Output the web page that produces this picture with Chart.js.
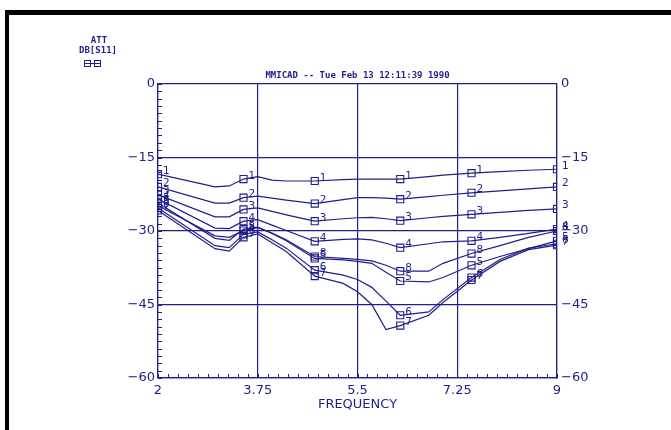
<!DOCTYPE html>
<html>
<head>
<meta charset="utf-8">
<title>MMICAD DB[S11]</title>
<script src="https://cdn.jsdelivr.net/npm/chart.js@4"></script>
<style>
    html, body { margin: 0; padding: 0; background: #ffffff; }
    #wrap { position: relative; width: 671px; height: 430px; overflow: hidden; }
</style>
</head>
<body>
<div id="wrap"><canvas id="s11-chart" width="671" height="430"></canvas></div>
<script>
// Data (GHz / dB)
const FREQ = [2, 3, 3.25, 3.5, 3.75, 4, 4.25, 4.75, 5.25, 5.5, 5.75, 6, 6.25, 6.75, 7, 7.5, 8, 8.5, 9];
const MARKER_FREQ = [2, 3.5, 4.75, 6.25, 7.5, 9];

const TRACE_1 = [-18.4, -21.0, -20.8, -19.4, -18.9, -19.6, -19.8, -19.8, -19.5, -19.4, -19.4, -19.4, -19.4, -18.9, -18.6, -18.2, -17.9, -17.6, -17.4];
const TRACE_2 = [-21.0, -24.3, -24.3, -23.2, -22.9, -23.3, -23.7, -24.4, -23.6, -23.2, -23.2, -23.3, -23.5, -23.0, -22.7, -22.2, -21.8, -21.4, -21.0];
const TRACE_3 = [-22.6, -27.1, -27.1, -25.6, -25.3, -26.0, -26.7, -28.0, -27.5, -27.3, -27.2, -27.5, -27.9, -27.3, -27.0, -26.6, -26.2, -25.8, -25.5];
const TRACE_4 = [-23.5, -29.4, -29.5, -28.0, -27.7, -28.8, -29.9, -32.1, -31.7, -31.6, -31.8, -32.5, -33.4, -32.6, -32.2, -32.0, -31.3, -30.5, -29.6];
const TRACE_5 = [-24.3, -31.5, -31.9, -29.6, -29.2, -30.5, -32.0, -35.6, -35.9, -36.2, -36.6, -38.4, -40.2, -40.4, -39.5, -37.0, -35.2, -33.6, -32.0];
const TRACE_6 = [-25.3, -33.0, -33.4, -30.7, -30.2, -31.8, -33.5, -38.0, -39.0, -39.9, -41.5, -44.3, -47.2, -46.5, -44.0, -39.5, -35.8, -33.5, -32.6];
const TRACE_7 = [-25.8, -33.6, -34.1, -31.3, -30.6, -32.4, -34.2, -39.2, -40.7, -42.4, -45.0, -50.1, -49.3, -47.2, -44.6, -40.0, -36.2, -33.8, -32.9];
const TRACE_8 = [-24.8, -31.0, -31.3, -29.9, -29.3, -30.4, -31.8, -35.2, -35.6, -35.8, -36.1, -37.0, -38.2, -38.2, -36.6, -34.6, -33.0, -31.3, -30.0];

const TRACES = [TRACE_1, TRACE_2, TRACE_3, TRACE_4, TRACE_5, TRACE_6, TRACE_7, TRACE_8];
const TRACE_LABELS = ['1', '2', '3', '4', '5', '6', '7', '8'];

const X_TICKS = [2, 3.75, 5.5, 7.25, 9];
const Y_TICKS = [0, -15, -30, -45, -60];

const TITLE = 'MMICAD -- Tue Feb 13 12:11:39 1990';
const X_TITLE = 'FREQUENCY';
const Y_TITLE_1 = 'ATT';
const Y_TITLE_2 = 'DB[S11]';

const NAVY = '#1e1e8c';
const AXIS_FONT = { family: "'DejaVu Sans', sans-serif", size: 13 };

function minusLabel(v) {
    return (v < 0 ? '\u2212' : '') + Math.abs(v);
}

// frame, header texts, minor ticks, marker numbers
const decorPlugin = {
    id: 'decor',
    beforeDraw(chart) {
        const ctx = chart.ctx;
        ctx.save();
        ctx.fillStyle = '#ffffff';
        ctx.fillRect(0, 0, chart.width, chart.height);
        ctx.fillStyle = '#000000';
        ctx.fillRect(5, 10, chart.width - 5, 5);
        ctx.fillRect(5, 10, 4, chart.height - 10);
        ctx.restore();
    },
    afterDatasetsDraw(chart) {
        const ctx = chart.ctx;
        ctx.save();
        ctx.fillStyle = NAVY;
        ctx.font = "10.5px 'DejaVu Sans', sans-serif";
        ctx.textAlign = 'left';
        ctx.textBaseline = 'bottom';
        chart.data.datasets.forEach((ds, i) => {
            const meta = chart.getDatasetMeta(i);
            meta.data.forEach((pt, j) => {
                if (!MARKER_FREQ.includes(FREQ[j])) return;
                ctx.fillText(TRACE_LABELS[i], pt.x + 5, pt.y + 2);
            });
        });
        ctx.restore();
    },
    afterDraw(chart) {
        const ctx = chart.ctx;
        const area = chart.chartArea;
        const xs = chart.scales.x;
        const ys = chart.scales.y;
        ctx.save();
        ctx.strokeStyle = NAVY;
        ctx.lineWidth = 1;

        // minor ticks, 10 per major step
        ctx.beginPath();
        const ySteps = (Y_TICKS.length - 1) * 10;
        for (let i = 0; i <= ySteps; i++) {
            const v = Y_TICKS[0] + (Y_TICKS[Y_TICKS.length - 1] - Y_TICKS[0]) * i / ySteps;
            const py = Math.round(ys.getPixelForValue(v)) + 0.5;
            ctx.moveTo(area.left, py);
            ctx.lineTo(area.left + 4, py);
        }
        const xSteps = (X_TICKS.length - 1) * 10;
        for (let i = 0; i <= xSteps; i++) {
            const v = X_TICKS[0] + (X_TICKS[X_TICKS.length - 1] - X_TICKS[0]) * i / xSteps;
            const px = Math.round(xs.getPixelForValue(v)) + 0.5;
            ctx.moveTo(px, area.bottom);
            ctx.lineTo(px, area.bottom - 4);
        }
        ctx.stroke();

        // header
        ctx.fillStyle = NAVY;
        ctx.font = "bold 9px 'DejaVu Sans Mono', monospace";
        ctx.textAlign = 'center';
        ctx.textBaseline = 'middle';
        ctx.fillText(TITLE, (area.left + area.right) / 2, 76);
        ctx.fillText(Y_TITLE_1, 99, 41);
        ctx.fillText(Y_TITLE_2, 98, 51);

        // legend symbol
        ctx.strokeRect(84.5, 60.5, 6, 6);
        ctx.strokeRect(94.5, 60.5, 6, 6);
        ctx.beginPath();
        ctx.moveTo(84.5, 63.5);
        ctx.lineTo(100.5, 63.5);
        ctx.stroke();
        ctx.restore();
    }
};

function buildDatasets() {
    return TRACES.map((trace, i) => ({
        label: TRACE_LABELS[i],
        data: FREQ.map((f, j) => ({ x: f, y: trace[j] })),
        borderColor: NAVY,
        borderWidth: 1.2,
        tension: 0,
        fill: false,
        pointStyle: 'rect',
        pointRadius: FREQ.map(f => MARKER_FREQ.includes(f) ? 5 : 0),
        pointBorderColor: NAVY,
        pointBorderWidth: 1.1,
        pointBackgroundColor: 'rgba(0,0,0,0)'
    }));
}

function drawChart() {
    const ctx = document.getElementById('s11-chart');
    if (!ctx) {
        console.error('Canvas element with id "s11-chart" not found');
        return;
    }

    const gridStyle = { color: NAVY, lineWidth: 1.2, drawTicks: false };

    new Chart(ctx, {
        type: 'line',
        data: { datasets: buildDatasets() },
        options: {
            responsive: false,
            animation: false,
            layout: { padding: { top: 84, left: 0, right: 0, bottom: 0 } },
            plugins: {
                legend: { display: false },
                tooltip: { enabled: false }
            },
            scales: {
                x: {
                    type: 'linear',
                    min: X_TICKS[0],
                    max: X_TICKS[X_TICKS.length - 1],
                    afterBuildTicks: s => { s.ticks = X_TICKS.map(v => ({ value: v })); },
                    afterFit: s => { s.height = 52; },
                    grid: gridStyle,
                    border: { color: NAVY, width: 1.2 },
                    ticks: {
                        color: NAVY, font: AXIS_FONT, padding: 5,
                        maxRotation: 0, autoSkip: false,
                        callback: v => String(v)
                    },
                    title: {
                        display: true, text: X_TITLE, color: NAVY, font: AXIS_FONT,
                        padding: { top: 0, bottom: 18 }
                    }
                },
                y: {
                    position: 'left',
                    min: Y_TICKS[Y_TICKS.length - 1],
                    max: Y_TICKS[0],
                    afterBuildTicks: s => { s.ticks = Y_TICKS.map(v => ({ value: v })); },
                    afterFit: s => { s.width = 158; },
                    grid: gridStyle,
                    border: { color: NAVY, width: 1.2 },
                    ticks: { color: NAVY, font: AXIS_FONT, padding: 3, callback: minusLabel }
                },
                y2: {
                    position: 'right',
                    min: Y_TICKS[Y_TICKS.length - 1],
                    max: Y_TICKS[0],
                    afterBuildTicks: s => { s.ticks = Y_TICKS.map(v => ({ value: v })); },
                    afterFit: s => { s.width = 671 - 557; },
                    grid: { display: false, drawTicks: false },
                    border: { color: NAVY, width: 1.2 },
                    ticks: { color: NAVY, font: AXIS_FONT, padding: 4, callback: minusLabel }
                }
            }
        },
        plugins: [decorPlugin]
    });
}

document.addEventListener('DOMContentLoaded', drawChart);
</script>
</body>
</html>
